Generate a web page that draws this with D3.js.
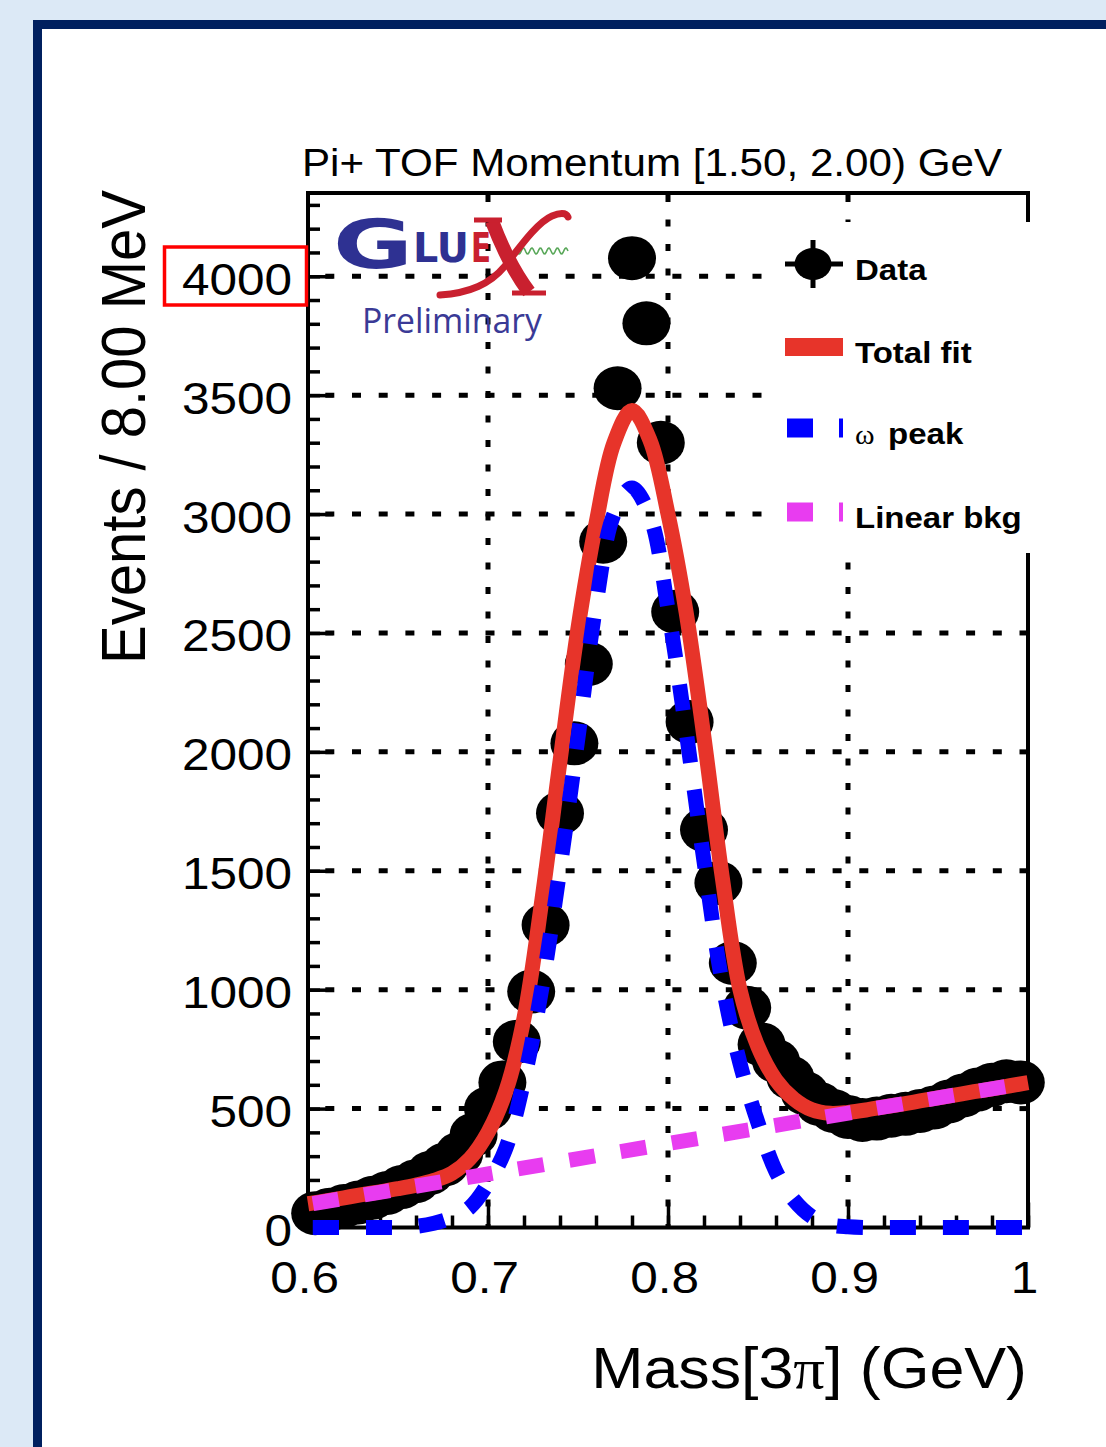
<!DOCTYPE html>
<html>
<head>
<script src="https://cdn.jsdelivr.net/npm/d3@7/dist/d3.min.js"></script>
<style>
  body{margin:0;background:#dce9f6;}
  svg{display:block;}
</style>
</head>
<body>
<div id="chart"></div>
<script>

// data (8 MeV bins)
var binCenters = [0.604,0.612,0.620,0.628,0.636,0.644,0.652,0.660,0.668,0.676,
                  0.684,0.692,0.700,0.708,0.716,0.724,0.732,0.740,0.748,0.756,
                  0.764,0.772,0.780,0.788,0.796,0.804,0.812,0.820,0.828,0.836,
                  0.844,0.852,0.860,0.868,0.876,0.884,0.892,0.900,0.908,0.916,
                  0.924,0.932,0.940,0.948,0.956,0.964,0.972,0.980,0.988,0.996]
var counts = [60,75,90,105,125,145,170,195,230,265,
              310,390,500,610,781,992,1272,1742,2036,2370,
              2884,3529,4076,3802,3300,2589,2126,1672,1449,1112,
              924,770,700,630,565,520,490,465,452,458,
              470,478,490,505,530,555,580,600,615,610]

var fitMass = [0.60,0.61,0.62,0.63,0.64,0.65,0.66,0.67,0.68,0.69,
               0.70,0.71,0.72,0.73,0.74,0.75,0.76,0.77,0.78,0.79,
               0.80,0.81,0.82,0.83,0.84,0.85,0.86,0.87,0.88,0.89,
               0.90,0.91,0.92,0.93,0.94,0.95,0.96,0.97,0.98,0.99,1.00]
var totalFit = [100,112,125,138,150,163,178,198,228,290,
                400,575,880,1380,1960,2520,2960,3300,3435,3310,
                3000,2590,2060,1480,1000,760,620,540,495,480,
                484,494,507,519,532,545,558,571,583,596,609]
var omegaPeak = [0,0,0,0,0,0,5,18,42,85,
                 185,335,620,1010,1510,2060,2620,3000,3110,2990,
                 2600,2090,1540,1035,690,440,235,115,45,12,
                 3,0,0,0,0,0,0,0,0,0,0]
var bkgMass = [0.60,1.00]
var bkgLine = [97,609]

var yTicks = [0,500,1000,1500,2000,2500,3000,3500,4000]
var xTicks = [0.6,0.7,0.8,0.9,1.0]
var xTickLabels = ["0.6","0.7","0.8","0.9","1"]
var legendLabels = ["Data","Total fit","peak","Linear bkg"]

var W = 1106, H = 1447
var plotLeft = 308, plotRight = 1028, plotTop = 193, plotBottom = 1227.5
var font = "'Liberation Sans', Arial, Helvetica, sans-serif"

var x = d3.scaleLinear().domain([0.6,1.0]).range([plotLeft,plotRight])
var y = d3.scaleLinear().domain([0,4350]).range([plotBottom,plotTop])

var svg = d3.select("#chart").append("svg").attr("width",W).attr("height",H)

// slide background + frame
svg.append("rect").attr("width",W).attr("height",H).attr("fill","#dce9f6")
svg.append("rect").attr("x",37.5).attr("y",24.5).attr("width",W).attr("height",H)
    .attr("fill","white").attr("stroke","#00205f").attr("stroke-width",9)

// grid
svg.append("g").selectAll("line").data(yTicks.slice(1)).enter().append("line")
    .attr("x1",plotLeft).attr("x2",plotRight)
    .attr("y1",d=>y(d)).attr("y2",d=>y(d))
    .attr("stroke","black").attr("stroke-width",5)
    .attr("stroke-dasharray","9,17.7").attr("stroke-dashoffset",9.4)

svg.append("g").selectAll("line").data(xTicks.slice(1,4)).enter().append("line")
    .attr("x1",d=>x(d)).attr("x2",d=>x(d))
    .attr("y1",plotBottom).attr("y2",plotTop)
    .attr("stroke","black").attr("stroke-width",5)
    .attr("stroke-dasharray","7,17.5").attr("stroke-dashoffset",3.5)

// GlueX logo
var logo = svg.append("g")
logo.append("text").text("G").attr("x",333).attr("y",268)
    .attr("font-family","'DejaVu Sans'").attr("font-weight","bold").attr("font-size",68)
    .attr("textLength",80).attr("lengthAdjust","spacingAndGlyphs").attr("fill","#2e3192")
logo.append("text").text("LU").attr("x",413).attr("y",262)
    .attr("font-family","'DejaVu Sans'").attr("font-weight","bold").attr("font-size",40)
    .attr("textLength",56).attr("lengthAdjust","spacingAndGlyphs").attr("fill","#2e3192")
logo.append("text").text("E").attr("x",471).attr("y",262)
    .attr("font-family","'DejaVu Sans'").attr("font-weight","bold").attr("font-size",40)
    .attr("textLength",20).attr("lengthAdjust","spacingAndGlyphs").attr("fill","#c9202f")
var wave = d3.range(0,52,1).map(function(i){return [517+i, 251+3*Math.sin(i/8.5*2*Math.PI)]})
logo.append("path").attr("d",d3.line()(wave)).attr("fill","none")
    .attr("stroke","#5aa85a").attr("stroke-width",1.6)
logo.append("path").attr("d","M440,295 C470,293 490,284 505,266 C522,244 538,222 552,216 C559,213 566,212 568,217")
    .attr("fill","none").attr("stroke","#c9202f").attr("stroke-width",7).attr("stroke-linecap","round")
logo.append("path").attr("d","M492,221 C501,245 514,272 529,292")
    .attr("fill","none").attr("stroke","#c9202f").attr("stroke-width",14)
logo.append("path").attr("d","M474,220 L502,220 M512,293 L546,293")
    .attr("fill","none").attr("stroke","#c9202f").attr("stroke-width",5)
logo.append("text").text("Preliminary").attr("x",362).attr("y",333)
    .attr("font-family","'Open Sans'").attr("font-size",34)
    .attr("textLength",180).attr("lengthAdjust","spacingAndGlyphs").attr("fill","#3a3a96")

// frame
svg.append("rect").attr("x",plotLeft).attr("y",plotTop)
    .attr("width",plotRight-plotLeft).attr("height",plotBottom-plotTop)
    .attr("fill","none").attr("stroke","black").attr("stroke-width",4)

// axes
var gxMinor = svg.append("g").attr("transform","translate(0,"+plotBottom+")")
    .call(d3.axisBottom(x).tickValues(x.ticks(20)).tickSize(-12).tickFormat(""))
var gx = svg.append("g").attr("transform","translate(0,"+plotBottom+")")
    .call(d3.axisBottom(x).tickValues(xTicks).tickSize(-25).tickPadding(34)
        .tickFormat(function(d,i){return xTickLabels[i]}))
var gyMinor = svg.append("g").attr("transform","translate("+plotLeft+",0)")
    .call(d3.axisLeft(y).tickValues(d3.range(0,4351,100)).tickSize(-12).tickFormat(""))
var gy = svg.append("g").attr("transform","translate("+plotLeft+",0)")
    .call(d3.axisLeft(y).tickValues(yTicks).tickSize(-25).tickPadding(14.5).tickFormat(d3.format("d")))

;[gxMinor,gx,gyMinor,gy].forEach(function(g){
    g.select(".domain").remove()
    g.selectAll(".tick line").attr("stroke","black").attr("stroke-width",3.5)
    g.selectAll("text").attr("font-family",font).attr("font-size",45).attr("fill","black")
})
gx.selectAll("text").attr("x",-3.6).attr("dy","0.71em").attr("transform","scale(1.1,1)")
gy.selectAll("text").attr("dy","0.4em").attr("transform","scale(1.1,1)")

// data points
svg.append("g").selectAll("ellipse").data(binCenters).enter().append("ellipse")
    .attr("cx",d=>x(d)).attr("cy",(d,i)=>y(counts[i]))
    .attr("rx",24).attr("ry",22).attr("fill","black")

// curves
var line = d3.line().x(d=>x(d[0])).y(d=>y(d[1])).curve(d3.curveCatmullRom.alpha(0.5))
svg.append("path").attr("d",line(fitMass.map((m,i)=>[m,totalFit[i]])))
    .attr("fill","none").attr("stroke","#e7342a").attr("stroke-width",15)
svg.append("path").attr("d",d3.line().x(d=>x(d[0])).y(d=>y(d[1]))(bkgMass.map((m,i)=>[m,bkgLine[i]])))
    .attr("fill","none").attr("stroke","#e83cf0").attr("stroke-width",15)
    .attr("stroke-dasharray","26,26").attr("stroke-dashoffset",47)
svg.append("path").attr("d",line(fitMass.map((m,i)=>[m,omegaPeak[i]])))
    .attr("fill","none").attr("stroke","#0000ff").attr("stroke-width",15)
    .attr("stroke-dasharray","26,27").attr("stroke-dashoffset",48)

// legend
svg.append("rect").attr("x",775).attr("y",222).attr("width",262).attr("height",331).attr("fill","white")
var leg = svg.append("g")
var rowY = [264,347,428,512]
leg.append("line").attr("x1",785).attr("x2",843).attr("y1",rowY[0]).attr("y2",rowY[0])
    .attr("stroke","black").attr("stroke-width",5)
leg.append("line").attr("x1",813).attr("x2",813).attr("y1",rowY[0]-24).attr("y2",rowY[0]+24)
    .attr("stroke","black").attr("stroke-width",5)
leg.append("ellipse").attr("cx",813).attr("cy",rowY[0]).attr("rx",18.5).attr("ry",16).attr("fill","black")
leg.append("line").attr("x1",785).attr("x2",843).attr("y1",rowY[1]).attr("y2",rowY[1])
    .attr("stroke","#e7342a").attr("stroke-width",18)
leg.append("line").attr("x1",787).attr("x2",843).attr("y1",rowY[2]).attr("y2",rowY[2])
    .attr("stroke","#0000ff").attr("stroke-width",19).attr("stroke-dasharray","26,26")
leg.append("line").attr("x1",787).attr("x2",843).attr("y1",rowY[3]).attr("y2",rowY[3])
    .attr("stroke","#e83cf0").attr("stroke-width",19).attr("stroke-dasharray","26,26")

var legText = leg.selectAll("text.lab").data(legendLabels).enter().append("text")
    .attr("class","lab")
    .attr("transform",(d,i)=>"translate(855,"+(rowY[i]+16)+") scale(1.1,1)")
    .attr("font-family",font).attr("font-weight","bold").attr("font-size",30)
legText.each(function(d,i){
    var t = d3.select(this)
    if(i==2){
        t.append("tspan").text("ω").attr("font-family","'Liberation Serif'").attr("font-weight","normal").attr("font-size",27)
        t.append("tspan").text(" "+d).attr("dx",4)
    }else{
        t.text(d)
    }
})

// titles
svg.append("text").text("Pi+ TOF Momentum [1.50, 2.00) GeV")
    .attr("x",302).attr("y",176).attr("font-family",font).attr("font-size",39)
    .attr("textLength",700).attr("lengthAdjust","spacingAndGlyphs")
svg.append("text").text("Events / 8.00 MeV")
    .attr("transform","translate(145,427) rotate(-90) scale(1,1.1)")
    .attr("text-anchor","middle").attr("font-family",font).attr("font-size",58)
var xl = svg.append("text").attr("transform","translate(1027,1388) scale(1.1,1)")
    .attr("text-anchor","end").attr("font-family",font).attr("font-size",57)
xl.append("tspan").text("Mass[3")
xl.append("tspan").text("π").attr("font-family","'Liberation Serif'")
xl.append("tspan").text("] (GeV)")

// highlight box
svg.append("rect").attr("x",164.5).attr("y",247).attr("width",142).attr("height",58)
    .attr("fill","none").attr("stroke","#ff0000").attr("stroke-width",3.5)

</script>
</body>
</html>
